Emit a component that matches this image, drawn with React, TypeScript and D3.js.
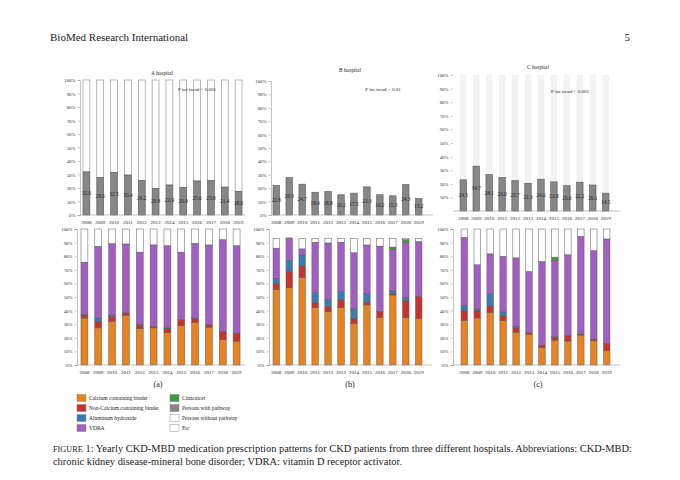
import React from "react";
import * as d3 from "d3";

const years = ["2008", "2009", "2010", "2011", "2012", "2013", "2014", "2015", "2016", "2017", "2018", "2019"];

// top row: share of persons with pathway (bar heights) and printed labels
const withPathwayA = [31.9, 27.7, 31.4, 29.6, 25.4, 19.8, 22.2, 20.2, 25.2, 25.4, 20.7, 17.3];
const withPathwayB = [22.0, 27.9, 23.0, 17.0, 17.5, 15.1, 16.3, 21.0, 15.1, 14.3, 22.7, 12.3];
const withPathwayC = [22.9, 33.0, 26.7, 24.7, 22.4, 20.4, 23.4, 21.4, 18.6, 21.2, 19.1, 13.1];
const labelsA = ["32.6", "28.6", "32.5", "30.4", "26.2", "20.8", "22.9", "20.9", "25.6", "25.8", "21.4", "18.6"];
const labelsB = ["22.8", "28.9", "24.7", "18.4", "18.8", "16.2", "17.5", "22.3", "16.2", "15.3", "24.3", "13.2"];
const labelsC = ["24.3", "34.7", "28.1", "26.0", "23.7", "21.3", "24.6", "22.8", "20.0", "22.2", "20.1", "14.5"];

// bottom row: medication shares (%)
const calciumA = [34.6, 27.3, 32.2, 36.6, 26.8, 27.3, 23.7, 29.0, 31.2, 27.8, 18.8, 17.6];
const nonCalciumA = [2.0, 4.9, 3.4, 1.7, 2.5, 1.0, 3.1, 4.4, 2.9, 2.0, 5.6, 5.8];
const aluminumA = [0.5, 2.4, 1.0, 0, 0.5, 0, 0.5, 0, 0.5, 0, 0, 0];
const vdraA = [38.5, 52.7, 52.7, 50.7, 53.2, 60.0, 60.5, 49.6, 54.9, 58.5, 67.8, 64.4];
const cinacalcetA = [0, 0, 0, 0, 0, 0, 0, 0, 0, 0, 0, 0];
const etcA = [24.4, 12.7, 10.7, 11.0, 17.0, 11.7, 12.2, 17.0, 10.5, 11.7, 7.8, 12.2];

const calciumB = [55.6, 56.8, 64.3, 42.2, 39.3, 42.2, 30.6, 44.2, 35.0, 51.5, 35.0, 34.0];
const nonCalciumB = [4.1, 12.1, 8.5, 3.7, 3.7, 5.6, 3.4, 1.9, 4.3, 1.0, 12.3, 16.2];
const aluminumB = [3.9, 8.1, 8.2, 7.3, 5.3, 6.1, 7.3, 6.6, 0, 2.0, 2.2, 0];
const vdraB = [22.3, 16.2, 4.4, 37.1, 41.5, 36.4, 41.2, 35.6, 48.1, 30.5, 40.8, 40.6];
const cinacalcetB = [0, 0, 0, 0, 0, 0, 0, 0, 0, 1.7, 1.9, 0];
const etcB = [7.3, 0.3, 7.8, 2.9, 3.4, 2.9, 10.7, 4.9, 5.8, 6.5, 1.0, 2.4];

const calciumC = [32.9, 34.6, 38.5, 32.9, 23.9, 22.4, 12.9, 18.3, 17.6, 22.0, 17.8, 10.7];
const nonCalciumC = [6.9, 5.6, 4.9, 3.2, 3.4, 1.5, 1.7, 1.7, 3.9, 0.7, 1.2, 5.2];
const aluminumC = [4.1, 1.3, 9.0, 2.9, 1.2, 0, 0, 1.0, 0, 0, 0, 0];
const vdraC = [50.0, 32.2, 29.3, 41.0, 50.3, 44.9, 61.5, 55.8, 59.5, 71.9, 65.1, 76.8];
const cinacalcetC = [0, 0, 0, 0, 0, 0, 0, 2.5, 0, 0, 0, 0];
const etcC = [6.1, 26.3, 18.3, 20.0, 21.2, 31.2, 23.9, 20.7, 19.0, 5.4, 15.9, 7.3];

const medKeys = ["calcium", "nonCalcium", "aluminum", "vdra", "cinacalcet", "etc"];
const medColors = ["#e8831f", "#c8322b", "#3b7bb4", "#a25ec2", "#3e9d3f", "#ffffff"];

const legendLeft = ["Calcium containing binder", "Non-Calcium containing binder", "Aluminum hydroxide", "VDRA"];
const legendRight = ["Cinacalcet", "Persons with pathway", "Persons without pathway", "Etc"];

const serif = "'Liberation Serif', 'DejaVu Serif', serif";

const App = () => {
    const chartRef = React.useRef(null);

    React.useEffect(() => {
        const svg = d3.select(chartRef.current);
        svg.selectAll("*").remove(); // only the chart group, header and caption are JSX

        const yTicks = d3.range(0, 101, 10);

        const drawYAxis = (g, y, x, ticks, showLine) => {
            const axis = g.append("g").attr("transform", `translate(${x},0)`)
                .call(d3.axisLeft(y).tickValues(ticks).tickSize(2.5).tickPadding(2).tickFormat((d) => `${d}%`));
            axis.select(".domain").attr("stroke", showLine ? "#9a9a9a" : "none").attr("stroke-width", 0.6);
            axis.selectAll("line").attr("stroke", "#9a9a9a").attr("stroke-width", 0.5);
            axis.selectAll("text").attr("font-family", serif).attr("font-size", 4.8).attr("fill", "#333");
        };

        const drawXAxis = (g, x, y0, xStart, xEnd) => {
            g.append("line").attr("x1", xStart).attr("x2", xEnd).attr("y1", y0).attr("y2", y0)
                .attr("stroke", "#9a9a9a").attr("stroke-width", 0.6);
            g.selectAll(".yr").data(years).enter().append("text")
                .attr("x", (d) => x(d) + x.bandwidth() / 2)
                .attr("y", y0 + 9)
                .attr("text-anchor", "middle")
                .attr("font-family", serif).attr("font-size", 5).attr("fill", "#222")
                .text((d) => d);
        };

        // top panels
        const tops = [
            { values: withPathwayA, labels: labelsA, title: "A hospital", p: "P for trend < 0.001", axisX: 80, bx: [79.5, 245.5], xEnd: 245, y: [215, 80], titleXY: [162, 75], pXY: [197, 91], bg: "outline", ticks: yTicks, yLine: true },
            { values: withPathwayB, labels: labelsB, title: "B hospital", p: "P for trend = 0.01", axisX: 271, bx: [269.8, 425.2], xEnd: 433, y: [215, 81], titleXY: [350, 72], pXY: [383, 91], bg: "none", ticks: yTicks, yLine: true },
            { values: withPathwayC, labels: labelsC, title: "C hospital", p: "P for trend < 0.001", axisX: 453, bx: [456.8, 612.2], xEnd: 620, y: [211, 75], titleXY: [538, 69], pXY: [570, 93], bg: "light", ticks: yTicks.slice(1), yLine: false },
        ];

        tops.forEach((t) => {
            const g = svg.append("g");
            const x = d3.scaleBand().domain(years).range(t.bx).paddingInner(0.5).paddingOuter(0.25);
            const y = d3.scaleLinear().domain([0, 100]).range(t.y);
            if (t.bg !== "none") {
                g.selectAll(".bg").data(t.values).enter().append("rect")
                    .attr("x", (d, i) => x(years[i]))
                    .attr("width", x.bandwidth())
                    .attr("y", y(100))
                    .attr("height", (d) => y(d) - y(100))
                    .attr("fill", t.bg === "light" ? "#f3f3f3" : "#ffffff")
                    .attr("stroke", t.bg === "light" ? "none" : "#8a8a8a")
                    .attr("stroke-width", 0.6);
            }
            g.selectAll(".bar").data(t.values).enter().append("rect")
                .attr("x", (d, i) => x(years[i]))
                .attr("width", x.bandwidth())
                .attr("y", (d) => y(d))
                .attr("height", (d) => y(0) - y(d))
                .attr("fill", "#878787")
                .attr("stroke", "#555")
                .attr("stroke-width", 0.6);
            g.selectAll(".lbl").data(t.values).enter().append("text")
                .attr("x", (d, i) => x(years[i]) + x.bandwidth() / 2)
                .attr("y", (d) => y(d / 2) + 1.7)
                .attr("text-anchor", "middle")
                .attr("font-family", serif).attr("font-size", 5.3).attr("fill", "#222")
                .text((d, i) => t.labels[i]);
            drawYAxis(g, y, t.axisX, t.ticks, t.yLine);
            drawXAxis(g, x, t.y[0], t.axisX, t.xEnd);
            g.append("text").attr("x", t.titleXY[0]).attr("y", t.titleXY[1]).attr("text-anchor", "middle")
                .attr("font-family", serif).attr("font-size", 5.4).attr("fill", "#222").text(t.title);
            g.append("text").attr("x", t.pXY[0]).attr("y", t.pXY[1]).attr("text-anchor", "middle")
                .attr("font-family", serif).attr("font-size", 5).attr("fill", "#222").text(t.p);
        });

        // bottom panels
        const bottoms = [
            { series: [calciumA, nonCalciumA, aluminumA, vdraA, cinacalcetA, etcA], axisX: 77, bx: [77.5, 243.5], xEnd: 245, tag: "(a)", tagX: 158 },
            { series: [calciumB, nonCalciumB, aluminumB, vdraB, cinacalcetB, etcB], axisX: 269, bx: [269.8, 425.2], xEnd: 432, tag: "(b)", tagX: 350 },
            { series: [calciumC, nonCalciumC, aluminumC, vdraC, cinacalcetC, etcC], axisX: 453, bx: [457.8, 613.2], xEnd: 620, tag: "(c)", tagX: 538 },
        ];

        bottoms.forEach((b) => {
            const g = svg.append("g");
            const x = d3.scaleBand().domain(years).range(b.bx).paddingInner(0.5).paddingOuter(0.25);
            const y = d3.scaleLinear().domain([0, 100]).range([365, 229]);
            const rows = years.map((yr, i) => {
                const r = { year: yr };
                medKeys.forEach((k, j) => { r[k] = b.series[j][i]; });
                return r;
            });
            const stacked = d3.stack().keys(medKeys)(rows);
            g.selectAll(".layer").data(stacked).enter().append("g")
                .attr("fill", (d, i) => medColors[i])
                .selectAll("rect").data((d) => d.filter((s) => s[1] - s[0] > 0)).enter().append("rect")
                .attr("x", (d) => x(d.data.year))
                .attr("width", x.bandwidth())
                .attr("y", (d) => y(d[1]))
                .attr("height", (d) => y(d[0]) - y(d[1]))
                .attr("stroke", "#5a5a5a")
                .attr("stroke-width", 0.5);
            drawYAxis(g, y, b.axisX, yTicks, true);
            drawXAxis(g, x, 365, b.axisX, b.xEnd);
            g.append("text").attr("x", b.tagX).attr("y", 387).attr("text-anchor", "middle")
                .attr("font-family", serif).attr("font-size", 8).attr("fill", "#222").text(b.tag);
        });

        // legend
        const lg = svg.append("g");
        const rowY = d3.scalePoint().domain(d3.range(4)).range([398, 428]);
        legendLeft.forEach((name, i) => {
            lg.append("rect").attr("x", 77).attr("y", rowY(i) - 3.5).attr("width", 9).attr("height", 7)
                .attr("fill", medColors[i]).attr("stroke", "#777").attr("stroke-width", 0.4);
            lg.append("text").attr("x", 89).attr("y", rowY(i) + 1.8)
                .attr("font-family", serif).attr("font-size", 5.5).attr("fill", "#222").text(name);
        });
        const rightColors = [medColors[4], "#878787", "#ffffff", "#ffffff"];
        legendRight.forEach((name, i) => {
            lg.append("rect").attr("x", 170).attr("y", rowY(i) - 3.5).attr("width", 9).attr("height", 7)
                .attr("fill", rightColors[i]).attr("stroke", "#777").attr("stroke-width", 0.4);
            lg.append("text").attr("x", 182).attr("y", rowY(i) + 1.8)
                .attr("font-family", serif).attr("font-size", 5.5).attr("fill", "#222").text(name);
        });
    }, []);

    return (
        <svg width={680} height={480} viewBox="0 0 680 480"
            style={{ position: "absolute", left: 0, top: 0, background: "#fff" }}>
            <text x={50} y={41} fontFamily={serif} fontSize={11} fill="#222">BioMed Research International</text>
            <text x={630} y={41} textAnchor="end" fontFamily={serif} fontSize={11} fill="#222">5</text>
            <g ref={chartRef} />
            <text x={53} y={452} fontFamily={serif} fontSize={9.3} fill="#222" textLength={579} lengthAdjust="spacingAndGlyphs">
                <tspan fontSize={7.4}>FIGURE</tspan> 1: Yearly CKD-MBD medication prescription patterns for CKD patients from three different hospitals. Abbreviations: CKD-MBD:
            </text>
            <text x={53} y={465} fontFamily={serif} fontSize={9.3} fill="#222" textLength={349} lengthAdjust="spacingAndGlyphs">
                chronic kidney disease-mineral bone disorder; VDRA: vitamin D receptor activator.
            </text>
        </svg>
    );
};

export default App;
